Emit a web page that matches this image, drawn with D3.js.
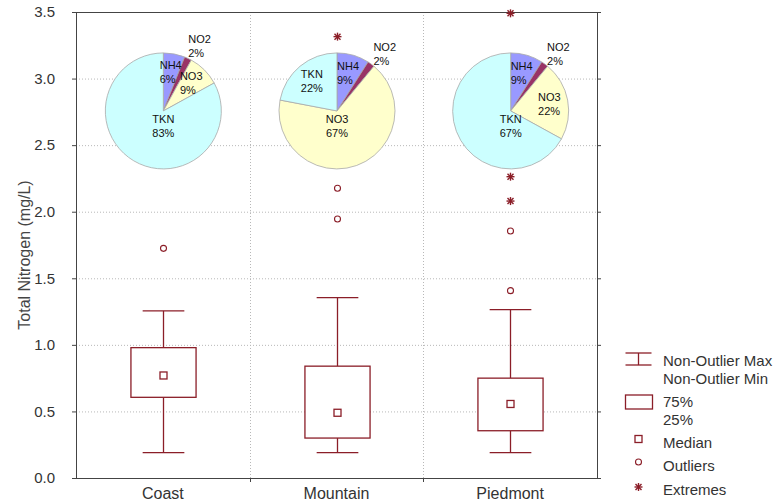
<!DOCTYPE html>
<html>
<head>
<meta charset="utf-8">
<script src="https://cdn.jsdelivr.net/npm/d3@7"></script>
<style>
  html, body { margin: 0; padding: 0; background: #fff; }
  svg { display: block; font-family: "Liberation Sans", Arial, sans-serif; }
</style>
</head>
<body>
<svg id="chart" width="778" height="504"></svg>
<script>
// ---------------- data ----------------
const categories = ["Coast", "Mountain", "Piedmont"];
const whiskerMin = [0.19, 0.19, 0.19];
const q1 = [0.606, 0.30, 0.355];
const median = [0.77, 0.49, 0.556];
const q3 = [0.979, 0.84, 0.75];
const whiskerMax = [1.255, 1.355, 1.265];
const outliers = [[1.725], [2.176, 1.945], [1.855, 1.407]];
const extremes = [[], [3.315], [3.49, 2.263, 2.08]];
const pieParts = ["NH4", "NO2", "NO3", "TKN"];
const pieShares = [[6, 2, 9, 83], [9, 2, 67, 22], [9, 2, 22, 67]];
const pieColors = ["#9999ff", "#993366", "#ffffcc", "#ccffff"];
const yTicks = [0, 0.5, 1.0, 1.5, 2.0, 2.5, 3.0, 3.5];
const yTitle = "Total Nitrogen (mg/L)";
const legendLabels = [["Non-Outlier Max", "Non-Outlier Min"], ["75%", "25%"], ["Median"], ["Outliers"], ["Extremes"]];

// ---------------- layout ----------------
const svg = d3.select("#chart");
const M = { left: 76, right: 597, top: 12, bottom: 478 };
const boxColor = "#8b1e28";
const x = d3.scaleBand().domain(categories).range([M.left, M.right]).padding(0);
const y = d3.scaleLinear().domain([0, 3.5]).range([M.bottom, M.top]);
const bw = x.bandwidth();

// grid
const grid = svg.append("g");
grid.selectAll("line.h").data(yTicks.filter(t => t > 0 && t < 3.5)).join("line")
  .attr("x1", M.left).attr("x2", M.right)
  .attr("y1", d => y(d) + 0.5).attr("y2", d => y(d) + 0.5)
  .attr("stroke", "#b8b8b8").attr("stroke-dasharray", "1,2");
grid.selectAll("line.v").data(categories.slice(1)).join("line")
  .attr("x1", d => Math.round(x(d)) + 0.5).attr("x2", d => Math.round(x(d)) + 0.5)
  .attr("y1", M.top).attr("y2", M.bottom)
  .attr("stroke", "#b8b8b8").attr("stroke-dasharray", "1,2");

// axes
const axisColor = "#444";
const yAxis = svg.append("g").attr("transform", `translate(${M.left},0)`)
  .call(d3.axisLeft(y).tickValues(yTicks).tickFormat(d3.format(".1f")).tickSizeInner(4).tickSizeOuter(0).tickPadding(17));
const yAxisR = svg.append("g").attr("transform", `translate(${M.right},0)`)
  .call(d3.axisRight(y).tickValues(yTicks).tickFormat("").tickSizeInner(4).tickSizeOuter(0));
const xAxis = svg.append("g").attr("transform", `translate(0,${M.bottom})`)
  .call(d3.axisBottom(x).tickSize(0).tickPadding(10));
svg.append("g").attr("transform", `translate(0,${M.bottom})`)
  .selectAll("line").data(categories.slice(1)).join("line")
  .attr("x1", d => Math.round(x(d)) + 0.5).attr("x2", d => Math.round(x(d)) + 0.5)
  .attr("y1", 0).attr("y2", 4).attr("stroke", axisColor);
[yAxis, yAxisR, xAxis].forEach(g => {
  g.select(".domain").remove();
  g.selectAll("line").attr("stroke", axisColor);
  g.selectAll("text").attr("fill", "#333").style("font-size", "15px").style("font-family", "Liberation Sans, Arial, sans-serif");
});
xAxis.selectAll("text").style("font-size", "16px");
svg.append("rect").attr("x", M.left + 0.5).attr("y", M.top + 0.5)
  .attr("width", M.right - M.left).attr("height", M.bottom - M.top)
  .attr("fill", "none").attr("stroke", axisColor);

// y title
svg.append("text")
  .attr("transform", `translate(24,255) rotate(-90)`)
  .attr("text-anchor", "middle").attr("dominant-baseline", "central")
  .attr("fill", "#444").style("font-size", "16px").text(yTitle);

// ---------------- boxes ----------------
const boxW = bw * 0.375, capW = bw * 0.24;
const boxes = svg.append("g");
categories.forEach((c, i) => {
  const cx = Math.round(x(c) + bw / 2) + 0.5;
  const g = boxes.append("g").attr("stroke", boxColor).attr("fill", "none").attr("stroke-width", 1.3);
  g.append("line").attr("x1", cx).attr("x2", cx).attr("y1", y(whiskerMin[i])).attr("y2", y(q1[i]));
  g.append("line").attr("x1", cx).attr("x2", cx).attr("y1", y(q3[i])).attr("y2", y(whiskerMax[i]));
  g.append("line").attr("x1", cx - capW / 2).attr("x2", cx + capW / 2).attr("y1", y(whiskerMin[i])).attr("y2", y(whiskerMin[i]));
  g.append("line").attr("x1", cx - capW / 2).attr("x2", cx + capW / 2).attr("y1", y(whiskerMax[i])).attr("y2", y(whiskerMax[i]));
  g.append("rect").attr("x", cx - boxW / 2).attr("y", y(q3[i]))
    .attr("width", boxW).attr("height", y(q1[i]) - y(q3[i])).attr("fill", "#fff");
  g.append("rect").attr("x", cx - 3.5).attr("y", y(median[i]) - 3.5).attr("width", 7).attr("height", 7);
  g.selectAll("circle").data(outliers[i]).join("circle")
    .attr("cx", cx).attr("cy", d => y(d)).attr("r", 3).attr("stroke-width", 1.1);
  extremes[i].forEach(v => {
    const ey = y(v), s = 4;
    const eg = g.append("g").attr("stroke-width", 1.4);
    eg.append("line").attr("x1", cx - s).attr("x2", cx + s).attr("y1", ey).attr("y2", ey);
    eg.append("line").attr("x1", cx).attr("x2", cx).attr("y1", ey - s).attr("y2", ey + s);
    eg.append("line").attr("x1", cx - s * 0.75).attr("x2", cx + s * 0.75).attr("y1", ey - s * 0.75).attr("y2", ey + s * 0.75);
    eg.append("line").attr("x1", cx - s * 0.75).attr("x2", cx + s * 0.75).attr("y1", ey + s * 0.75).attr("y2", ey - s * 0.75);
  });
});

// ---------------- pies ----------------
const R = 58;
const pie = d3.pie().sort(null).value(d => d.v);
const arc = d3.arc().innerRadius(0).outerRadius(R);
categories.forEach((c, i) => {
  const cx = x(c) + bw / 2 + 0.5, cy = y(2.757);
  const data = pieParts.map((p, k) => ({ name: p, v: pieShares[i][k], color: pieColors[k] }));
  const arcs = pie(data);
  const g = svg.append("g").attr("transform", `translate(${cx},${cy})`);
  g.selectAll("path").data(arcs).join("path")
    .attr("d", arc).attr("fill", d => d.data.color)
    .attr("stroke", "#a8a8a8").attr("stroke-width", 0.8);
  arcs.forEach(a => {
    const mid = (a.startAngle + a.endAngle) / 2;
    let px, py;
    if (a.data.v > 50) { px = 0; py = R * 0.26; }
    else if (a.data.v < 5) {
      const ang = mid + 0.07, rr = R * 1.28;
      px = rr * Math.sin(ang); py = -rr * Math.cos(ang);
    } else {
      const rr = R * 0.68;
      px = rr * Math.sin(mid); py = -rr * Math.cos(mid);
    }
    const t = g.append("text").attr("fill", "#111").style("font-size", "11px");
    const l1 = t.append("tspan").attr("y", py - 3).text(a.data.name);
    const l2 = t.append("tspan").attr("y", py + 11).text(a.data.v + "%");
    const w = Math.max(l1.node().getComputedTextLength(), l2.node().getComputedTextLength());
    const left = a.data.v > 50 ? null : px - w / 2;
    if (left === null) {
      l1.attr("x", px).attr("text-anchor", "middle");
      l2.attr("x", px).attr("text-anchor", "middle");
    } else {
      l1.attr("x", left); l2.attr("x", left);
    }
  });
});

// ---------------- legend ----------------
const lg = svg.append("g").attr("stroke", boxColor).attr("fill", "none").attr("stroke-width", 1.3);
const sx = 638.5;
// whisker symbol
lg.append("line").attr("x1", sx - 13).attr("x2", sx + 13).attr("y1", 353).attr("y2", 353);
lg.append("line").attr("x1", sx).attr("x2", sx).attr("y1", 353).attr("y2", 365);
lg.append("line").attr("x1", sx - 13).attr("x2", sx + 13).attr("y1", 365).attr("y2", 365);
// box symbol
lg.append("rect").attr("x", sx - 13).attr("y", 395).attr("width", 27).attr("height", 14);
// median
lg.append("rect").attr("x", sx - 3.5).attr("y", 435.5).attr("width", 7).attr("height", 7);
// outlier
lg.append("circle").attr("cx", sx).attr("cy", 462).attr("r", 3).attr("stroke-width", 1.1);
// extreme
{
  const ey = 487, s = 4;
  const eg = lg.append("g").attr("stroke-width", 1.4);
  eg.append("line").attr("x1", sx - s).attr("x2", sx + s).attr("y1", ey).attr("y2", ey);
  eg.append("line").attr("x1", sx).attr("x2", sx).attr("y1", ey - s).attr("y2", ey + s);
  eg.append("line").attr("x1", sx - s * 0.75).attr("x2", sx + s * 0.75).attr("y1", ey - s * 0.75).attr("y2", ey + s * 0.75);
  eg.append("line").attr("x1", sx - s * 0.75).attr("x2", sx + s * 0.75).attr("y1", ey + s * 0.75).attr("y2", ey - s * 0.75);
}
const legendY = [[360, 378], [401, 419], [442], [465], [489]];
const lt = svg.append("g").attr("fill", "#333").style("font-size", "15px");
legendLabels.forEach((lines, i) => {
  lines.forEach((s, j) => {
    lt.append("text").attr("x", 663).attr("y", legendY[i][j]).attr("dominant-baseline", "central").text(s);
  });
});
</script>
</body>
</html>
